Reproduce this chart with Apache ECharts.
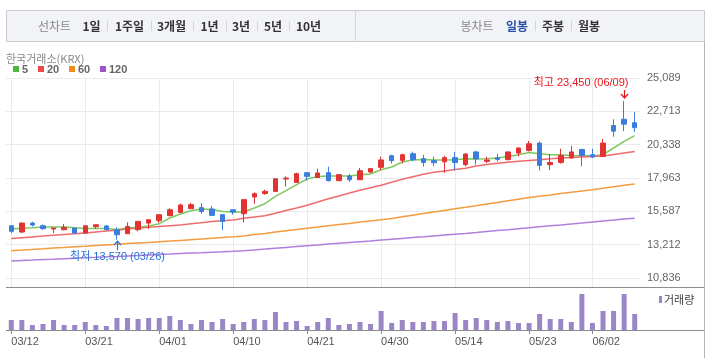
<!DOCTYPE html>
<html><head><meta charset="utf-8">
<script src="https://cdn.jsdelivr.net/npm/echarts@6/dist/echarts.min.js"></script>
<style>html,body{margin:0;padding:0;background:#fff}#c{width:710px;height:358px}</style>
</head><body><div id="c"></div>
<script>
// ---------- data ----------
const dates = ['03/12','03/13','03/14','03/17','03/18','03/19','03/20','03/21','03/24','03/25',
 '03/26','03/27','03/28','03/31','04/01','04/02','04/03','04/04','04/07','04/08',
 '04/09','04/10','04/11','04/14','04/15','04/16','04/17','04/18','04/21','04/22',
 '04/23','04/24','04/25','04/28','04/29','04/30','05/02','05/07','05/08','05/09',
 '05/12','05/13','05/14','05/15','05/16','05/19','05/20','05/21','05/22','05/23',
 '05/26','05/27','05/28','05/29','05/30','06/02','06/04','06/05','06/09','06/10'];
const opens  = [14560,14110,14750,14560,14330,14280,14400,14040,14490,14540,
 14280,13990,14280,14750,14920,15280,15510,15770,15850,15750,
 15350,15700,15420,16610,16860,17010,17890,17650,18340,18000,
 18340,17770,18100,17840,18390,18720,19550,19220,19690,19340,
 19200,19120,19410,18910,19820,19150,19410,19270,19740,19930,
 20450,18910,19070,19390,20000,19620,19500,21700,22150,21900];
const closes = [14160,14750,14610,14350,14400,14440,14040,14560,14630,14280,
 13920,14510,14870,14990,15350,15700,16040,16060,15580,15300,
 14870,15540,16420,16840,17010,17910,17960,18270,18080,18320,
 17770,18200,17840,18480,18630,19250,19200,19620,19270,19070,
 19050,19410,19070,19670,19320,19250,19290,19820,20100,20400,
 18860,19070,19570,19820,19570,19460,20450,21300,21800,21550];
const lows   = [14040,14040,14510,14280,14040,14230,14040,14040,14350,14230,
 13570,13990,14160,14330,14780,15230,15510,15770,15420,15300,
 14240,15350,14800,16130,16770,16960,17360,17650,17790,18000,
 17720,17770,17680,17840,18320,18530,19000,19000,19150,18770,
 18790,18320,18500,18790,18910,19030,19150,19220,19500,19860,
 18500,18530,18980,19340,18790,19390,19500,20900,21300,21250];
const highs  = [14600,14800,14850,14650,14400,14680,14400,14560,14630,14610,
 14440,14800,14870,14990,15350,15820,16130,16200,16180,15990,
 15350,15700,16420,16940,17130,17910,18080,18340,18340,18630,
 18770,18200,18250,18680,18680,19480,19620,19690,19840,19620,
 19480,19550,19820,19740,19910,19480,19690,19860,20150,20600,
 20550,19670,20050,20250,20000,20050,20750,22150,23450,22650];
const ma5   = [14330,14385,14420,14470,14470,14470,14420,14370,14370,14370,
 14300,14400,14455,14540,14705,15110,15400,15630,15750,15720,
 15580,15540,15540,15824,16130,16650,17057,17485,17890,18076,
 18105,18105,18105,18197,18247,18554,18746,19102,19245,19288,
 19245,19245,19266,19338,19316,19338,19387,19501,19623,19786,
 19694,19623,19623,19573,19551,19551,19623,20100,20570,20977];
const ma20  = [13650,13707,13764,13821,13878,13935,13992,14049,14113,14177,
 14242,14320,14384,14448,14505,14555,14605,14698,14776,14855,
 14912,14969,15097,15190,15268,15453,15646,15824,16023,16252,
 16487,16686,16893,17085,17271,17449,17663,17876,18055,18233,
 18368,18468,18568,18653,18817,18924,19017,19088,19152,19209,
 19266,19338,19387,19423,19459,19494,19537,19637,19751,19851];
const ma60  = [12781,12823,12873,12916,12966,13009,13059,13101,13151,13194,
 13237,13287,13329,13372,13422,13465,13515,13565,13615,13672,
 13721,13771,13835,13928,14014,14106,14199,14284,14377,14463,
 14555,14641,14726,14819,14905,14990,15083,15197,15311,15425,
 15539,15653,15767,15874,15988,16109,16223,16337,16451,16565,
 16658,16750,16850,16943,17035,17128,17235,17335,17442,17542];
const ma120 = [12047,12082,12111,12146,12175,12211,12246,12275,12310,12346,
 12374,12410,12439,12474,12510,12538,12574,12610,12638,12674,
 12702,12738,12781,12838,12895,12959,13016,13073,13130,13187,
 13251,13308,13365,13422,13479,13543,13600,13657,13714,13771,
 13835,13893,13950,14007,14071,14142,14213,14277,14349,14413,
 14484,14555,14620,14691,14755,14826,14897,14962,15033,15097];
const volumes = [300000,300000,150000,180000,300000,150000,150000,240000,150000,120000,
 360000,360000,330000,360000,360000,420000,300000,180000,300000,240000,
 330000,180000,240000,330000,300000,540000,240000,270000,120000,240000,
 360000,150000,180000,240000,180000,570000,210000,300000,240000,240000,
 270000,270000,510000,300000,360000,300000,240000,270000,210000,210000,
 480000,330000,330000,240000,1080000,210000,570000,570000,1080000,480000];
const yTickLabels = ['10,836','13,212','15,587','17,963','20,338','22,713','25,089'];
const xTickLabels = ['03/12','03/21','04/01','04/10','04/21','04/30','05/14','05/23','06/02'];
const maNames = ['5','20','60','120'];
const highMark = {date:'06/09', value:23450, text:'최고 23,450 (06/09)'};
const lowMark  = {date:'03/26', value:13570, text:'최저 13,570 (03/26)'};
const chartTabs = ['1일','1주일','3개월','1년','3년','5년','10년'];
const candleTabs = ['일봉','주봉','월봉'];

// ---------- style ----------
const KR = '"Noto Sans CJK KR", sans-serif';
const NUM = '"Liberation Sans", "Noto Sans CJK KR", sans-serif';
const UP = '#e23232', DOWN = '#3a7ddc';
const maColors = ['#7ec95f', '#f06b6b', '#f59b3d', '#b07fdc'];
const legendColors = ['#4cb843', '#ea4a4a', '#f18b22', '#9a55cc'];
const Y_MIN = 10836, Y_MAX = 25089, Y_STEP = 2375.5;

const chart = echarts.init(document.getElementById('c'), null, {renderer: 'canvas'});
const isTick = (i, v) => xTickLabels.indexOf(v) >= 0;

const option = {
  animation: false,
  grid: [
    {left: 6, right: 70, top: 78, height: 200},
    {left: 6, right: 70, top: 287, height: 43},
    {left: 6 + 634 / 120, right: 70 + 634 / 120, top: 78, height: 209}
  ],
  xAxis: [
    {type: 'category', gridIndex: 0, data: dates, boundaryGap: true,
     axisLine: {show: false}, axisTick: {show: false}, axisLabel: {show: false}, splitLine: {show: false}},
    {type: 'category', gridIndex: 1, data: dates, boundaryGap: true,
     axisLine: {show: false},
     axisTick: {show: true, alignWithLabel: true, interval: isTick, length: 4, lineStyle: {color: '#888'}},
     axisLabel: {interval: isTick, color: '#555', fontSize: 11, fontFamily: NUM, margin: 6, align: 'left'},
     splitLine: {show: false}},
    {type: 'category', gridIndex: 2, data: dates, boundaryGap: false,
     axisLine: {show: false}, axisTick: {show: false}, axisLabel: {show: false},
     splitLine: {show: true, interval: isTick, lineStyle: {color: '#ebebeb', width: 1}}}
  ],
  yAxis: [
    {type: 'value', gridIndex: 0, position: 'right', min: Y_MIN, max: Y_MAX, interval: Y_STEP,
     axisLine: {show: false}, axisTick: {show: false},
     axisLabel: {color: '#666', fontSize: 11, fontFamily: NUM, margin: 7,
       formatter: v => yTickLabels[Math.round((v - Y_MIN) / Y_STEP)] || ''},
     splitLine: {show: true, lineStyle: {color: '#ebebeb', width: 1}}},
    {type: 'value', gridIndex: 1, min: 0, max: 1290000, show: false, splitLine: {show: false}},
    {type: 'value', gridIndex: 2, min: 0, max: 1, show: false, splitLine: {show: false}}
  ],
  series: [
    {type: 'candlestick', xAxisIndex: 0, yAxisIndex: 0, barWidth: 5, z: 5,
     data: dates.map((d, i) => [opens[i], closes[i], lows[i], highs[i]]),
     itemStyle: {color: UP, color0: DOWN, borderColor: UP, borderColor0: DOWN, borderWidth: 1}},
    ...[ma5, ma20, ma60, ma120].map((arr, k) => ({
      type: 'line', name: maNames[k], xAxisIndex: 0, yAxisIndex: 0, data: arr,
      showSymbol: false, symbol: 'none', smooth: false, z: 3,
      lineStyle: {color: maColors[k], width: 1.5}
    })),
    {type: 'bar', xAxisIndex: 1, yAxisIndex: 1, data: volumes, barWidth: 5,
     itemStyle: {color: '#9a86c6'}}
  ]
};
chart.setOption(option);

// ---------- decorations ----------
function T(x, y, text, o) {
  o = o || {};
  const al = o.align || 'center';
  return {type: 'text', silent: true, z: 100, style: {
    x: x, y: y, text: text, fill: o.color || '#333',
    font: (o.weight || 'normal') + ' ' + (o.size || 12) + 'px ' + (o.family || KR),
    textAlign: al, align: al, textVerticalAlign: 'middle', verticalAlign: 'middle'}};
}
function L(x1, y1, x2, y2, c, w) {
  return {type: 'line', silent: true, z: 90, shape: {x1, y1, x2, y2}, style: {stroke: c, lineWidth: w || 1}};
}
const g = [];
// toolbar
g.push({type: 'rect', silent: true, z: 80, shape: {x: 6.5, y: 10.5, width: 698, height: 31},
  style: {fill: '#f2f3f7', stroke: '#c8cad0', lineWidth: 1}});
g.push(L(355.5, 11, 355.5, 41, '#d3d5db'));
g.push(T(54.5, 26, '선차트', {color: '#888', size: 12}));
const tabX = [91.5, 129.5, 171.5, 209.5, 241, 273, 308.5];
const sepX = [107.5, 151.5, 193.5, 226.5, 257.5, 289.5];
chartTabs.forEach((t, i) => g.push(T(tabX[i], 26, t, {weight: 'bold', size: 12, color: '#333'})));
sepX.forEach(x => g.push(L(x, 21, x, 31, '#d4d4d4')));
g.push(T(477, 26, '봉차트', {color: '#888', size: 12}));
const ctX = [517, 553, 589];
candleTabs.forEach((t, i) => g.push(T(ctX[i], 26, t, {weight: 'bold', size: 12, color: i === 0 ? '#2b51a6' : '#333'})));
[535.5, 571.5].forEach(x => g.push(L(x, 21, x, 31, '#d4d4d4')));
// exchange label & MA legend
g.push(T(6, 59, '한국거래소(KRX)', {align: 'left', color: '#888', size: 11}));
const legX = [13, 38, 69, 100];
maNames.forEach((n, k) => {
  g.push({type: 'rect', silent: true, z: 90, shape: {x: legX[k], y: 66, width: 6, height: 6}, style: {fill: legendColors[k]}});
  g.push(T(legX[k] + 9, 69.5, n, {align: 'left', color: '#666', size: 11, weight: 'bold', family: NUM}));
});
// frame lines
g.push(L(6, 287.5, 704, 287.5, '#8c8c8c'));
g.push(L(6, 330.5, 704, 330.5, '#8c8c8c'));
g.push(L(704.5, 41.5, 704.5, 358, '#b4b4b4'));
// volume legend
g.push({type: 'rect', silent: true, z: 90, shape: {x: 659, y: 296, width: 3, height: 7}, style: {fill: '#9a86c6'}});
g.push(T(664, 299.5, '거래량', {align: 'left', color: '#444', size: 11}));
// high / low marks
const ph = chart.convertToPixel({xAxisIndex: 0, yAxisIndex: 0}, [highMark.date, highMark.value]);
const hx = Math.round(ph[0]) + 0.5, hy = ph[1];
g.push(L(hx, hy - 11, hx, hy - 3, '#e8151b', 1.2));
g.push({type: 'polyline', silent: true, z: 95, shape: {points: [[hx - 3.5, hy - 7], [hx, hy - 3], [hx + 3.5, hy - 7]]},
  style: {stroke: '#e8151b', lineWidth: 1.2, fill: null}});
g.push(T(hx + 4, hy - 18.5, highMark.text, {align: 'right', color: '#e8151b', size: 11, family: NUM}));
const pl = chart.convertToPixel({xAxisIndex: 0, yAxisIndex: 0}, [lowMark.date, lowMark.value]);
const lx = Math.round(pl[0]) + 0.5, ly = pl[1];
g.push(L(lx, ly + 1.5, lx, ly + 10.5, '#2a6fd6', 1.2));
g.push({type: 'polyline', silent: true, z: 95, shape: {points: [[lx - 3.5, ly + 5.5], [lx, ly + 1.5], [lx + 3.5, ly + 5.5]]},
  style: {stroke: '#2a6fd6', lineWidth: 1.2, fill: null}});
g.push(T(lx, ly + 17.5, lowMark.text, {color: '#2a6fd6', size: 11, family: NUM}));

chart.setOption({graphic: {elements: g}});
</script></body></html>
